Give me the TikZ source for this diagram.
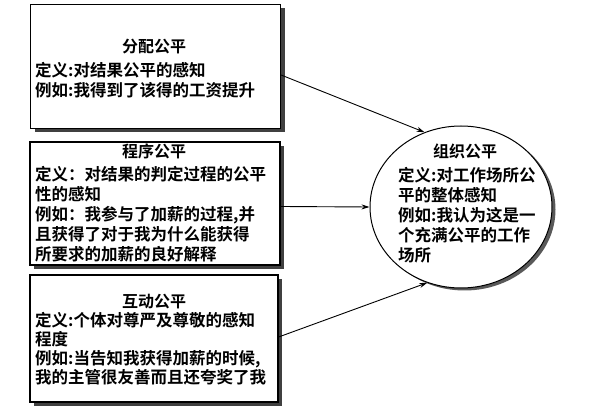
\documentclass[tikz,border=0pt]{standalone}
\usepackage{fontspec}
\setmainfont{Noto Sans CJK SC}[BoldFont={Noto Sans CJK SC Bold}]
\usetikzlibrary{arrows.meta,shadows,shapes.geometric}
\tikzset{
  box/.style={draw=black, line width=1.2pt, fill=white, minimum width=250pt, minimum height=124pt, inner sep=0pt,
    drop shadow={shadow xshift=4pt, shadow yshift=-4pt, fill=black!75, opacity=1}},
  circ/.style={ellipse, draw=black, line width=1pt, fill=white, minimum width=182pt, minimum height=162pt, inner sep=0pt,
    drop shadow={shadow xshift=3.5pt, shadow yshift=-2.5pt, fill=black!65, opacity=1}},
  ttl/.style={anchor=base, inner sep=0pt, font=\fontsize{16pt}{20pt}\selectfont\bfseries},
  txt/.style={anchor=base west, inner sep=0pt, align=left, font=\fontsize{16.5pt}{20pt}\selectfont\bfseries},
  arr/.style={draw=black, line width=0.9pt, -{Stealth[length=8pt,width=5pt]}}
}
\begin{document}
\begin{tikzpicture}[x=1pt,y=1pt]
\useasboundingbox (0,0) rectangle (600,412);
\fill[white] (0,0) rectangle (600,412);
% boxes
\node[box] (b1) at (155.5,345.5) {};
\node[box, minimum height=123pt] (b2) at (155,208.5) {};
\node[box, minimum width=248pt, minimum height=127pt] (b3) at (154,73.5) {};
\node[circ] (c) at (461,205) {};
% box 1 text
\node[ttl] (t1) at (154,359) {分配公平};
\node[txt] (x1) at (35,315) {定义:对结果公平的感知\\例如:我得到了该得的工资提升};
% box 2 text
\node[ttl] (t2) at (154,254) {程序公平};
\node[txt] (x2) at (35,151) {定义：对结果的判定过程的公平\\性的感知\\例如：我参与了加薪的过程,并\\且获得了对于我为什么能获得\\所要求的加薪的良好解释};
% box 3 text
\node[ttl] (t3) at (154,104) {互动公平};
\node[txt, font=\fontsize{16.5pt}{19pt}\selectfont\bfseries] (x3) at (35,28) {定义:个体对尊严及尊敬的感知\\程度\\例如:当告知我获得加薪的时候,\\我的主管很友善而且还夸奖了我};
% circle text
\node[ttl] (t4) at (465,254) {组织公平};
\node[txt] (x4) at (398,150) {定义:对工作场所公\\平的整体感知\\例如:我认为这是一\\个充满公平的工作\\场所};
% arrows
\draw[arr] ([yshift=-8.5pt]b1.east) -- (c.116);
\draw[arr] ([yshift=-3pt]b2.east) -- (c.west);
\draw[arr] ([yshift=1.5pt]b3.east) -- (c.246);
\end{tikzpicture}
\end{document}
